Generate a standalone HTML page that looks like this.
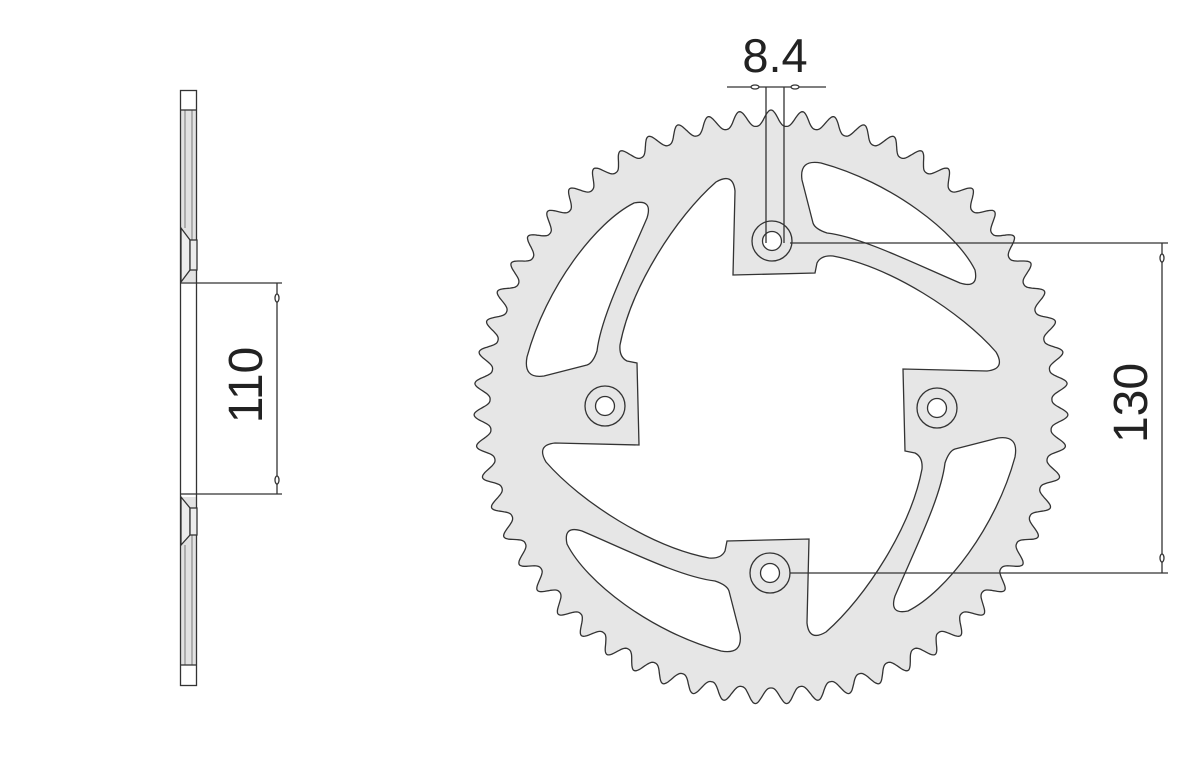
<!DOCTYPE html>
<html><head><meta charset="utf-8"><style>
html,body{margin:0;padding:0;background:#fff;}
svg{display:block}
text{font-family:"Liberation Sans",sans-serif;fill:#222}
</style></head><body>
<svg id="s" width="1200" height="780" viewBox="0 0 1200 780" xmlns="http://www.w3.org/2000/svg">
<g id="spr" stroke="#333" stroke-width="1.3" fill="none">
<path id="teeth" fill="#e6e6e6" d=""/>
<path id="hole" fill="#fff" d=""/>
<g id="slots"></g>
<g id="bolts"></g>
</g>
<!-- side view -->
<g stroke="#333" stroke-width="1.3">
<rect x="181" y="110" width="15" height="172" fill="#e2e2e2" stroke="none"/>
<rect x="181" y="497" width="15" height="168" fill="#e2e2e2" stroke="none"/>
<rect x="180.5" y="90.5" width="16" height="595" fill="none"/>
<line x1="181" y1="110" x2="196" y2="110"/>
<line x1="181" y1="665" x2="196" y2="665"/>
<line x1="185" y1="110" x2="185" y2="228" stroke-width="0.6"/>
<line x1="192" y1="110" x2="192" y2="240" stroke-width="0.6"/>
<line x1="185" y1="545" x2="185" y2="665" stroke-width="0.6"/>
<line x1="192" y1="535" x2="192" y2="665" stroke-width="0.6"/>
<polygon points="181,228 190,240 190,270 181,282" fill="#ececec"/>
<rect x="190" y="240" width="7" height="30" fill="#ececec"/>
<polygon points="181,497 190,508 190,535 181,545" fill="#ececec"/>
<rect x="190" y="508" width="7" height="27" fill="#ececec"/>
<line x1="181" y1="283" x2="197" y2="283"/>
<line x1="181" y1="494" x2="197" y2="494"/>
<line x1="197" y1="283" x2="282" y2="283"/>
<line x1="197" y1="494" x2="282" y2="494"/>
<line x1="277" y1="283" x2="277" y2="494"/>
<ellipse cx="277" cy="298" rx="2" ry="4" fill="#fff"/>
<ellipse cx="277" cy="480" rx="2" ry="4" fill="#fff"/>
<!-- 130 -->
<line x1="790" y1="243" x2="1168" y2="243"/>
<line x1="790" y1="573" x2="1168" y2="573"/>
<line x1="1162" y1="243" x2="1162" y2="573"/>
<ellipse cx="1162" cy="258" rx="2" ry="4" fill="#fff"/>
<ellipse cx="1162" cy="558" rx="2" ry="4" fill="#fff"/>
<!-- 8.4 -->
<line x1="727" y1="87" x2="826" y2="87"/>
<line x1="766" y1="87" x2="766" y2="243"/>
<line x1="784" y1="87" x2="784" y2="243"/>
<ellipse cx="755" cy="87" rx="4" ry="2" fill="#fff"/>
<ellipse cx="795" cy="87" rx="4" ry="2" fill="#fff"/>
</g>
<text x="775" y="72" font-size="47" text-anchor="middle">8.4</text>
<text transform="translate(1147,403) rotate(-90)" font-size="48" text-anchor="middle">130</text>
<text transform="translate(262,385) rotate(-90)" font-size="48" text-anchor="middle">110</text>
</svg>
<script>
(function(){
var cx=771,cy=407,N=59,rt=281,tp=297,d="";
var M=N*30;
for(var k=0;k<=M;k++){
 var th=k/M*2*Math.PI;
 var ph=(th*N/(2*Math.PI))%1; if(ph>0.5)ph-=1;
 var g=0.5+0.5*Math.cos(2*Math.PI*ph); g=Math.pow(g,1.3);
 var r=rt+(tp-rt)*g;
 var x=cx+r*Math.sin(th), y=cy-r*Math.cos(th);
 d+=(k?"L":"M")+x.toFixed(1)+" "+y.toFixed(1);
}
document.getElementById("teeth").setAttribute("d",d+"Z");
function rot(p,q){var x=p[0],y=p[1];for(var i=0;i<q;i++){var t=x;x=-y;y=t;}return [cx+x,cy+y];}
function pt(p,q){var r=rot(p,q);return r[0].toFixed(1)+" "+r[1].toFixed(1);}
var seg=[["L",[44,-134]],["L",[46,-144]],["Q",[50,-152],[62,-151]],["C",[120,-140],[190,-95],[225,-55]],["Q",[235,-38],[216,-36]],["L",[132,-38]]];
var h="M"+pt([-38,-132],0);
for(var q=0;q<4;q++){seg.forEach(function(s){h+=s[0];for(var i=1;i<s.length;i++)h+=(i>1?" ":"")+pt(s[i],q)+" ";});}
document.getElementById("hole").setAttribute("d",h+"Z");
var sl=[["M",[42,-184]],["L",[31,-227]],["Q",[28,-248],[50,-244]],["C",[120,-225],[185,-175],[204,-137]],["Q",[208,-118],[189,-124]],["C",[140,-145],[90,-170],[56,-174]],["Q",[44,-178],[42,-184]]];
var ns="http://www.w3.org/2000/svg",sg=document.getElementById("slots"),bg=document.getElementById("bolts");
for(var q=0;q<4;q++){
 var p="";sl.forEach(function(s){p+=s[0];for(var i=1;i<s.length;i++)p+=pt(s[i],q)+" ";});
 var e=document.createElementNS(ns,"path");e.setAttribute("d",p+"Z");e.setAttribute("fill","#fff");sg.appendChild(e);
 var c=rot([1,-166],q);
 var o=document.createElementNS(ns,"circle");o.setAttribute("cx",c[0]);o.setAttribute("cy",c[1]);o.setAttribute("r",20);o.setAttribute("fill","#e6e6e6");bg.appendChild(o);
 var i2=document.createElementNS(ns,"circle");i2.setAttribute("cx",c[0]);i2.setAttribute("cy",c[1]);i2.setAttribute("r",9.5);i2.setAttribute("fill","#fff");bg.appendChild(i2);
}
})();
</script>
</body></html>
